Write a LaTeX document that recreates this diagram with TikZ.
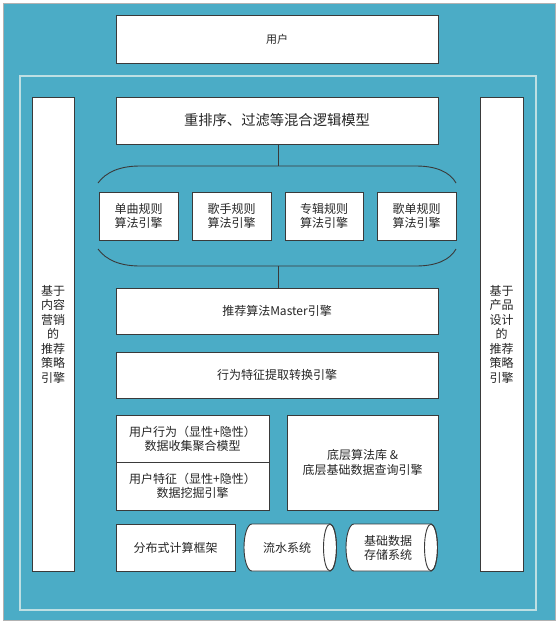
\documentclass[tikz,border=0pt]{standalone}
\usepackage{fontspec}
\setmainfont{Noto Sans CJK SC}
\definecolor{teal1}{HTML}{4BACC6}
\definecolor{frameline}{HTML}{BEDFE3}
\definecolor{edge}{HTML}{3A3A3A}
\definecolor{txt}{HTML}{262626}
\begin{document}
\begin{tikzpicture}[x=1pt,y=-1pt,
  box/.style={draw=edge,line width=0.9pt,fill=white,inner sep=0pt,align=center,text=txt,font=\fontsize{12}{14}\selectfont},
  conn/.style={draw=edge,line width=0.9pt},
  shapeline/.style={draw=edge,line width=0.9pt}]
\useasboundingbox (0,0) rectangle (558,624);
\fill[white] (0,0) rectangle (558,624);
\draw[fill=teal1,draw=gray!60,line width=0.5pt] (3,3) rectangle (555,620);
\draw[frameline,line width=1.5pt] (20,76) rectangle (536,610);

% user
\node[box,minimum width=322pt,minimum height=48pt,font=\fontsize{11}{13}\selectfont] (user) at (277,39) {用户};

% side boxes
\node[box,minimum width=42pt,minimum height=474pt,font=\fontsize{12}{14.5}\selectfont] (leftbox) at (53,334) {基于\\内容\\营销\\的\\推荐\\策略\\引擎};
\node[box,minimum width=43pt,minimum height=474pt,font=\fontsize{12}{14.5}\selectfont] (rightbox) at (501.5,334) {基于\\产品\\设计\\的\\推荐\\策略\\引擎};

% rerank
\node[box,minimum width=322pt,minimum height=47pt,font=\fontsize{14.3}{16}\selectfont] (rerank) at (277,120.5) {重排序、过滤等混合逻辑模型};

% capsule
\coordinate (captop) at (278,166);
\coordinate (capbot) at (278,266);
\draw[shapeline] (98,183) .. controls (106,172) and (120,166) .. (140,166) -- (captop) -- (416,166) .. controls (436,166) and (450,172) .. (456,183);
\draw[shapeline] (98,249) .. controls (106,260) and (120,266) .. (140,266) -- (capbot) -- (416,266) .. controls (436,266) and (450,260) .. (456,249);
\draw[conn] (rerank.south -| captop) -- (captop);

\node[box,minimum width=79pt,minimum height=48pt] (e1) at (138.5,216) {单曲规则\\算法引擎};
\node[box,minimum width=79pt,minimum height=48pt] (e2) at (231.5,216) {歌手规则\\算法引擎};
\node[box,minimum width=78pt,minimum height=48pt] (e3) at (324,216) {专辑规则\\算法引擎};
\node[box,minimum width=79pt,minimum height=48pt] (e4) at (416.5,216) {歌单规则\\算法引擎};

% master
\node[box,minimum width=322pt,minimum height=46pt] (master) at (277,311) {推荐算法Master引擎};
\draw[conn] (capbot) -- (master.north -| capbot);

% behaviour feature
\node[box,minimum width=322pt,minimum height=46pt] (feat) at (277,375) {行为特征提取转换引擎};

% lower
\node[box,minimum width=153pt,minimum height=47pt] (ubeh) at (192.5,438.5) {用户行为（显性+隐性）\\数据收集聚合模型};
\node[box,minimum width=153pt,minimum height=48pt] (ufeat) at (192.5,486) {用户特征（显性+隐性）\\数据挖掘引擎};
\node[box,minimum width=151pt,minimum height=95pt] (algo) at (362.5,462.5) {底层算法库 \&\\[1pt]底层基础数据查询引擎};

% bottom row
\node[box,minimum width=119pt,minimum height=47pt] (dist) at (175.5,547.5) {分布式计算框架};

% stream cylinder
\draw[shapeline,fill=white] (252,524) -- (330,524) arc[start angle=90,end angle=-90,x radius=6.5pt,y radius=23.5pt] -- (252,571) arc[start angle=270,end angle=90,x radius=8pt,y radius=23.5pt] -- cycle;
\draw[shapeline] (330,547.5) ellipse [x radius=6.5pt,y radius=23.5pt];
\node[text=txt,font=\fontsize{12}{14}\selectfont] (stream) at (287,547.5) {流水系统};

% storage cylinder
\draw[shapeline,fill=white] (354,524) -- (431,524) arc[start angle=90,end angle=-90,x radius=6.5pt,y radius=23.5pt] -- (354,571) arc[start angle=270,end angle=90,x radius=8pt,y radius=23.5pt] -- cycle;
\draw[shapeline] (431,547.5) ellipse [x radius=6.5pt,y radius=23.5pt];
\node[text=txt,align=center,font=\fontsize{12}{14}\selectfont] (store) at (388,547.5) {基础数据\\存储系统};
\end{tikzpicture}
\end{document}
